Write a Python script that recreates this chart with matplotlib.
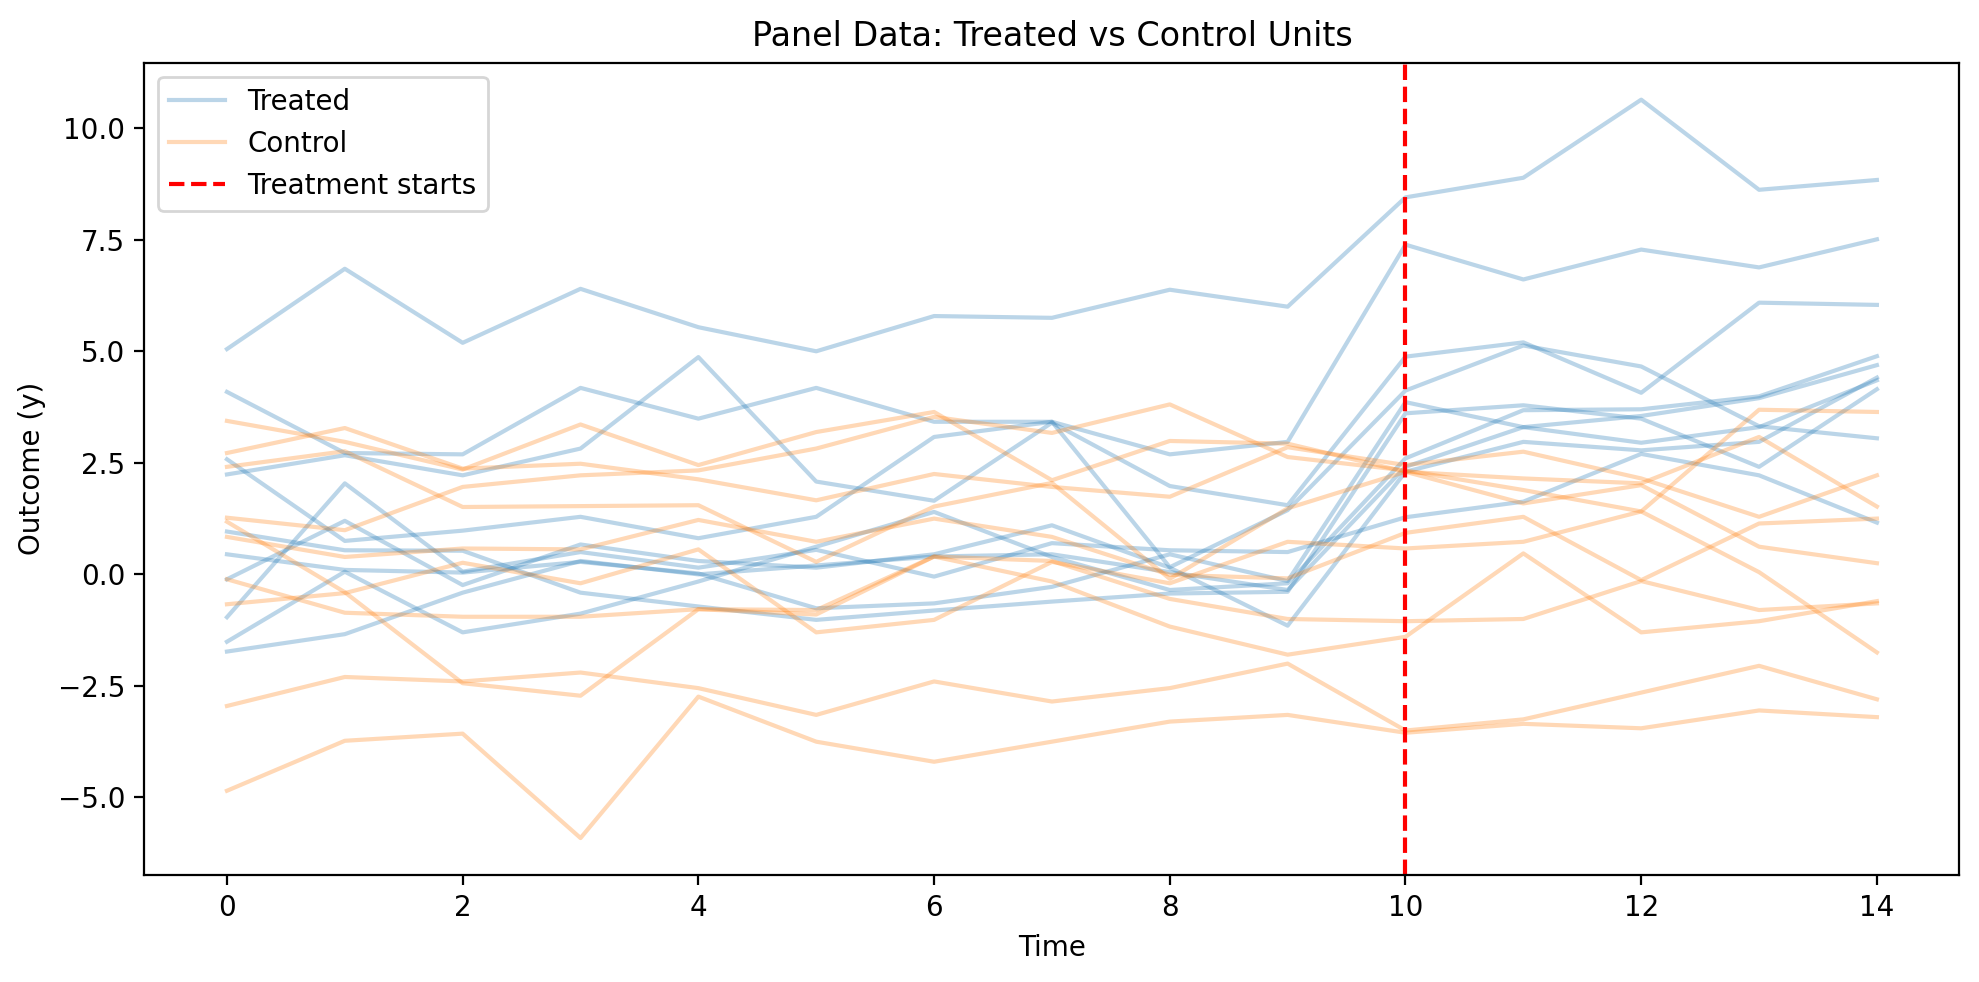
import matplotlib
matplotlib.use("Agg")
import matplotlib.pyplot as plt
import numpy as np

time = list(range(15))
treatment_start = 10

treated_1 = [5.05, 6.85, 5.19, 6.40, 5.54, 5.00, 5.79, 5.75, 6.38, 6.00, 8.45, 8.89, 10.64, 8.62, 8.84]
treated_2 = [4.09, 2.72, 2.69, 4.18, 3.49, 4.18, 3.42, 3.42, 2.69, 2.97, 7.39, 6.61, 7.28, 6.88, 7.51]
treated_3 = [2.24, 2.67, 2.22, 2.82, 4.87, 2.08, 1.65, 3.40, 1.98, 1.55, 4.88, 5.20, 4.07, 6.09, 6.04]
treated_4 = [2.58, 0.75, 0.98, 1.29, 0.81, 1.29, 3.08, 3.42, 0.16, 1.44, 4.12, 5.13, 4.66, 3.32, 3.05]
treated_5 = [0.96, 0.54, 0.53, -0.41, -0.72, -1.02, -0.81, -0.61, -0.43, -0.39, 3.61, 3.79, 3.49, 2.41, 4.15]
treated_6 = [0.45, 0.10, 0.04, 0.28, 0.02, -0.76, -0.65, -0.28, 0.45, -0.15, 3.86, 3.30, 3.55, 3.95, 4.69]
treated_7 = [-0.11, 1.20, -0.24, 0.67, 0.30, 0.15, 0.45, 1.10, 0.15, -1.15, 2.30, 2.97, 2.78, 2.97, 4.41]
treated_8 = [-0.96, 2.04, 0.06, 0.50, 0.15, 0.55, -0.05, 0.70, 0.54, 0.50, 1.28, 1.63, 2.70, 2.22, 1.16]
treated_9 = [-1.51, 0.06, -1.30, -0.88, -0.16, 0.62, 1.40, 0.39, -0.35, -0.20, 2.60, 3.68, 3.70, 3.99, 4.89]
treated_10 = [-1.73, -1.34, -0.41, 0.30, 0.00, 0.20, 0.40, 0.45, 0.05, -0.35, 2.41, 3.30, 2.95, 3.30, 4.35]

control_1 = [3.44, 2.97, 2.35, 3.36, 2.45, 3.19, 3.64, 2.11, 2.99, 2.93, 2.30, 2.15, 2.04, 3.08, 1.52]
control_2 = [2.72, 3.28, 2.37, 2.48, 2.13, 1.66, 2.25, 1.96, 1.74, 2.85, 2.45, 2.75, 2.15, 1.29, 2.22]
control_3 = [2.41, 2.76, 1.51, 1.53, 1.55, 0.28, 1.52, 2.05, -0.10, 1.48, 2.30, 1.59, 2.00, 0.62, 0.25]
control_4 = [1.27, 0.99, 1.96, 2.22, 2.33, 2.82, 3.53, 3.17, 3.81, 2.63, 2.33, 1.89, 1.41, 3.69, 3.64]
control_5 = [1.18, -0.40, -2.44, -2.72, -0.78, -0.90, 0.40, -0.16, -1.17, -1.80, -1.40, 0.47, -1.30, -1.05, -0.60]
control_6 = [0.84, 0.39, 0.58, 0.56, 1.22, 0.73, 1.25, 0.84, -0.01, -0.09, 0.93, 1.29, -0.13, 1.14, 1.25]
control_7 = [-0.11, -0.86, -0.95, -0.95, -0.78, -0.80, 0.40, 0.30, -0.55, -1.00, -1.05, -1.00, -0.15, -0.80, -0.65]
control_8 = [-0.67, -0.42, 0.26, -0.20, 0.56, -1.30, -1.02, 0.28, -0.20, 0.73, 0.58, 0.73, 1.41, 0.05, -1.75]
control_9 = [-2.95, -2.30, -2.40, -2.20, -2.55, -3.15, -2.40, -2.85, -2.55, -2.00, -3.50, -3.25, -2.65, -2.05, -2.80]
control_10 = [-4.85, -3.73, -3.57, -5.91, -2.74, -3.75, -4.20, -3.75, -3.30, -3.15, -3.55, -3.35, -3.45, -3.05, -3.20]

treated_units = [treated_1, treated_2, treated_3, treated_4, treated_5,
                 treated_6, treated_7, treated_8, treated_9, treated_10]
control_units = [control_1, control_2, control_3, control_4, control_5,
                 control_6, control_7, control_8, control_9, control_10]

fig = plt.figure(figsize=(9.895, 4.91), dpi=200)
ax = fig.add_axes([0.0730, 0.1090, 0.9171, 0.8271])

for i, y in enumerate(treated_units):
    ax.plot(time, y, color="C0", alpha=0.3, label="Treated" if i == 0 else None)
for i, y in enumerate(control_units):
    ax.plot(time, y, color="C1", alpha=0.3, label="Control" if i == 0 else None)

ax.axvline(treatment_start, color="red", linestyle="--", label="Treatment starts")

ax.set_title("Panel Data: Treated vs Control Units")
ax.set_xlabel("Time")
ax.set_ylabel("Outcome (y)")
ax.legend(loc="upper left")

fig.savefig("out.png", dpi=200)
